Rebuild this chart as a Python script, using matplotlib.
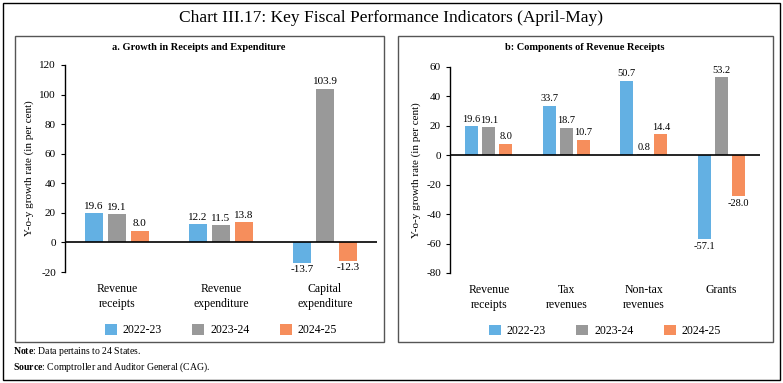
import numpy as np
import matplotlib
matplotlib.use("Agg")
import matplotlib.pyplot as plt
from matplotlib.patches import Rectangle

plt.rcParams['font.family'] = ['Liberation Serif', 'DejaVu Serif']
plt.rcParams['axes.unicode_minus'] = False
plt.rcParams['mathtext.fontset'] = 'custom'
plt.rcParams['mathtext.bf'] = 'Liberation Serif:bold'
plt.rcParams['mathtext.rm'] = 'Liberation Serif'

years = ["2022-23", "2023-24", "2024-25"]
colors = ["#63b0e3", "#999999", "#f68e5c"]

cats_a = ["Revenue\nreceipts", "Revenue\nexpenditure", "Capital\nexpenditure"]
a_2223 = [19.6, 12.2, -13.7]
a_2324 = [19.1, 11.5, 103.9]
a_2425 = [8.0, 13.8, -12.3]

cats_b = ["Revenue\nreceipts", "Tax\nrevenues", "Non-tax\nrevenues", "Grants"]
b_2223 = [19.6, 33.7, 50.7, -57.1]
b_2324 = [19.1, 18.7, 0.8, 53.2]
b_2425 = [8.0, 10.7, 14.4, -28.0]

W, H = 783, 383
fig = plt.figure(figsize=(W / 100, H / 100), dpi=100)


def px(x0, y0, x1, y1):
    # pixel box (top-left origin) -> figure fraction
    return [x0 / W, 1 - y1 / H, (x1 - x0) / W, (y1 - y0) / H]


def box(x0, y0, x1, y1, lw=1.0, color="#555555"):
    r = Rectangle((x0 / W, 1 - y1 / H), (x1 - x0) / W, (y1 - y0) / H,
                  transform=fig.transFigure, fill=False, lw=lw, ec=color)
    fig.add_artist(r)


box(3, 3, 780, 380, lw=1.0, color="black")
box(15, 36, 384, 342)
box(398, 36, 773, 342)

fig.text(391 / W, 1 - 18 / H, "Chart III.17: Key Fiscal Performance Indicators (April-May)",
         ha="center", va="center", fontsize=12.5)


def panel(rect, title, tx, cats, series, ylim, step, fs, bw, off):
    ax = fig.add_axes(px(*rect))
    x = np.arange(len(cats))
    for i, vals in enumerate(series):
        bars = ax.bar(x + (i - 1) * off, vals, bw, color=colors[i], label=years[i])
        for b, v in zip(bars, vals):
            d = (ylim[1] - ylim[0]) * 0.012
            ax.text(b.get_x() + b.get_width() / 2, v + d if v >= 0 else v - d, f"{v:.1f}",
                    ha="center", va="bottom" if v >= 0 else "top", fontsize=fs)
    ax.axhline(0, color="black", lw=1.2)
    ax.set_ylim(*ylim)
    ax.set_yticks(np.arange(ylim[0], ylim[1] + 1, step))
    ax.set_xlim(-0.5, len(cats) - 0.5)
    ax.set_xticks(x)
    ax.set_xticklabels(cats, fontsize=8.5, linespacing=1.3)
    ax.tick_params(axis="x", length=0, pad=8)
    ax.tick_params(axis="y", labelsize=8, length=3, width=0.8)
    for s in ["top", "right", "bottom"]:
        ax.spines[s].set_visible(False)
    ax.spines["left"].set_linewidth(1.0)
    ax.set_ylabel("Y-o-y growth rate (in per cent)", fontsize=8)
    fig.text(tx / W, 1 - 48 / H, title, ha="center", va="center", fontsize=7.5, fontweight="bold")
    ax.legend(loc="upper center", bbox_to_anchor=(0.5, -0.2), ncol=3, frameon=False,
              fontsize=8.5, handlelength=1.0, handleheight=1.0, columnspacing=2.6,
              handletextpad=0.5)
    return ax


panel((65, 65, 377, 272), "a. Growth in Receipts and Expenditure", 199,
      cats_a, [a_2223, a_2324, a_2425], (-20, 120), 20, 8, 0.17, 0.22)
panel((450, 67, 760, 273), "b: Components of Revenue Receipts", 585,
      cats_b, [b_2223, b_2324, b_2425], (-80, 60), 20, 7.5, 0.17, 0.22)

fig.text(13 / W, 1 - 352 / H, r"$\bf{Note}$: Data pertains to 24 States.", fontsize=7, va="center")
fig.text(13 / W, 1 - 367 / H, r"$\bf{Source}$: Comptroller and Auditor General (CAG).", fontsize=7, va="center")

fig.savefig("out.png", dpi=100)
